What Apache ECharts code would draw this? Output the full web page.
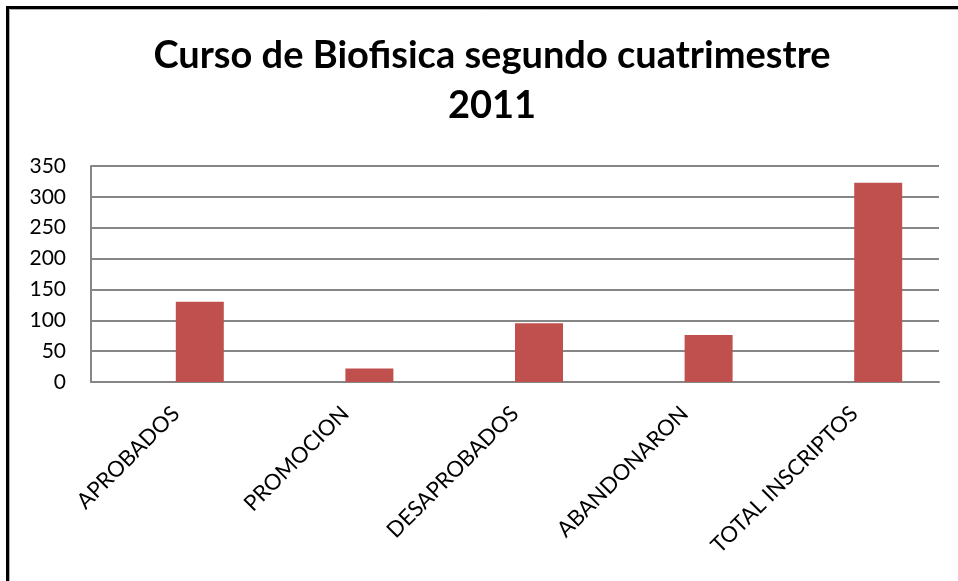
<!DOCTYPE html>
<html>
<head>
<meta charset="utf-8">
<script src="https://cdn.jsdelivr.net/npm/echarts@6/dist/echarts.min.js"></script>
<style>
  html, body { margin: 0; padding: 0; background: #fff; }
  #chart { width: 958px; height: 581px; }
</style>
</head>
<body>
<div id="chart"></div>
<script>
// categorias del eje X
const categorias = ["APROBADOS", "PROMOCION", "DESAPROBADOS", "ABANDONARON", "TOTAL INSCRIPTOS"];
// serie vacia (Excel deja el hueco a la izquierda)
const serieVacia = [null, null, null, null, null];
// cantidad de alumnos
const alumnos = [130, 22, 95, 76, 323];
// eje Y
const yMin = 0;
const yMax = 350;
const yPaso = 50;

const chart = echarts.init(document.getElementById("chart"));
const fuente = "Lato, 'Open Sans', sans-serif";

const option = {
  backgroundColor: "#fff",
  animation: false,
  title: {
    text: "Curso de Biofisica segundo cuatrimestre\n2011",
    left: 487,
    top: 26,
    textAlign: "center",
    textStyle: {
      fontFamily: fuente,
      fontSize: 38,
      fontWeight: "bold",
      color: "#000",
      lineHeight: 50,
    },
  },
  // marco del grafico
  graphic: [
    {
      type: "polyline",
      shape: { points: [[7.5, 581], [7.5, 7.5], [958, 7.5]] },
      style: { stroke: "#000", lineWidth: 3, fill: null },
      silent: true,
    },
    {
      type: "polyline",
      shape: { points: [[9.5, 581], [9.5, 9.5], [958, 9.5]] },
      style: { stroke: "#b0b0b0", lineWidth: 1, fill: null },
      silent: true,
    },
  ],
  grid: {
    left: 91,
    right: 19,
    top: 166,
    bottom: 199,
  },
  xAxis: {
    type: "category",
    data: categorias,
    axisTick: { show: false },
    axisLine: { lineStyle: { color: "#868686", width: 2 } },
    axisLabel: {
      rotate: 45,
      interval: 0,
      margin: 28,
      fontFamily: fuente,
      fontSize: 22,
      color: "#000",
    },
  },
  yAxis: {
    type: "value",
    min: yMin,
    max: yMax,
    interval: yPaso,
    axisLine: { show: true, lineStyle: { color: "#868686", width: 2 } },
    axisTick: { show: false },
    axisLabel: {
      margin: 25,
      fontFamily: fuente,
      fontSize: 21,
      color: "#000",
    },
    splitLine: { lineStyle: { color: "#868686", width: 2 } },
  },
  series: [
    {
      type: "bar",
      data: serieVacia,
      barWidth: 48,
      barGap: "0%",
    },
    {
      type: "bar",
      data: alumnos,
      barWidth: 48,
      barGap: "0%",
      itemStyle: { color: "#C0504D" },
    },
  ],
};

chart.setOption(option);
</script>
</body>
</html>
